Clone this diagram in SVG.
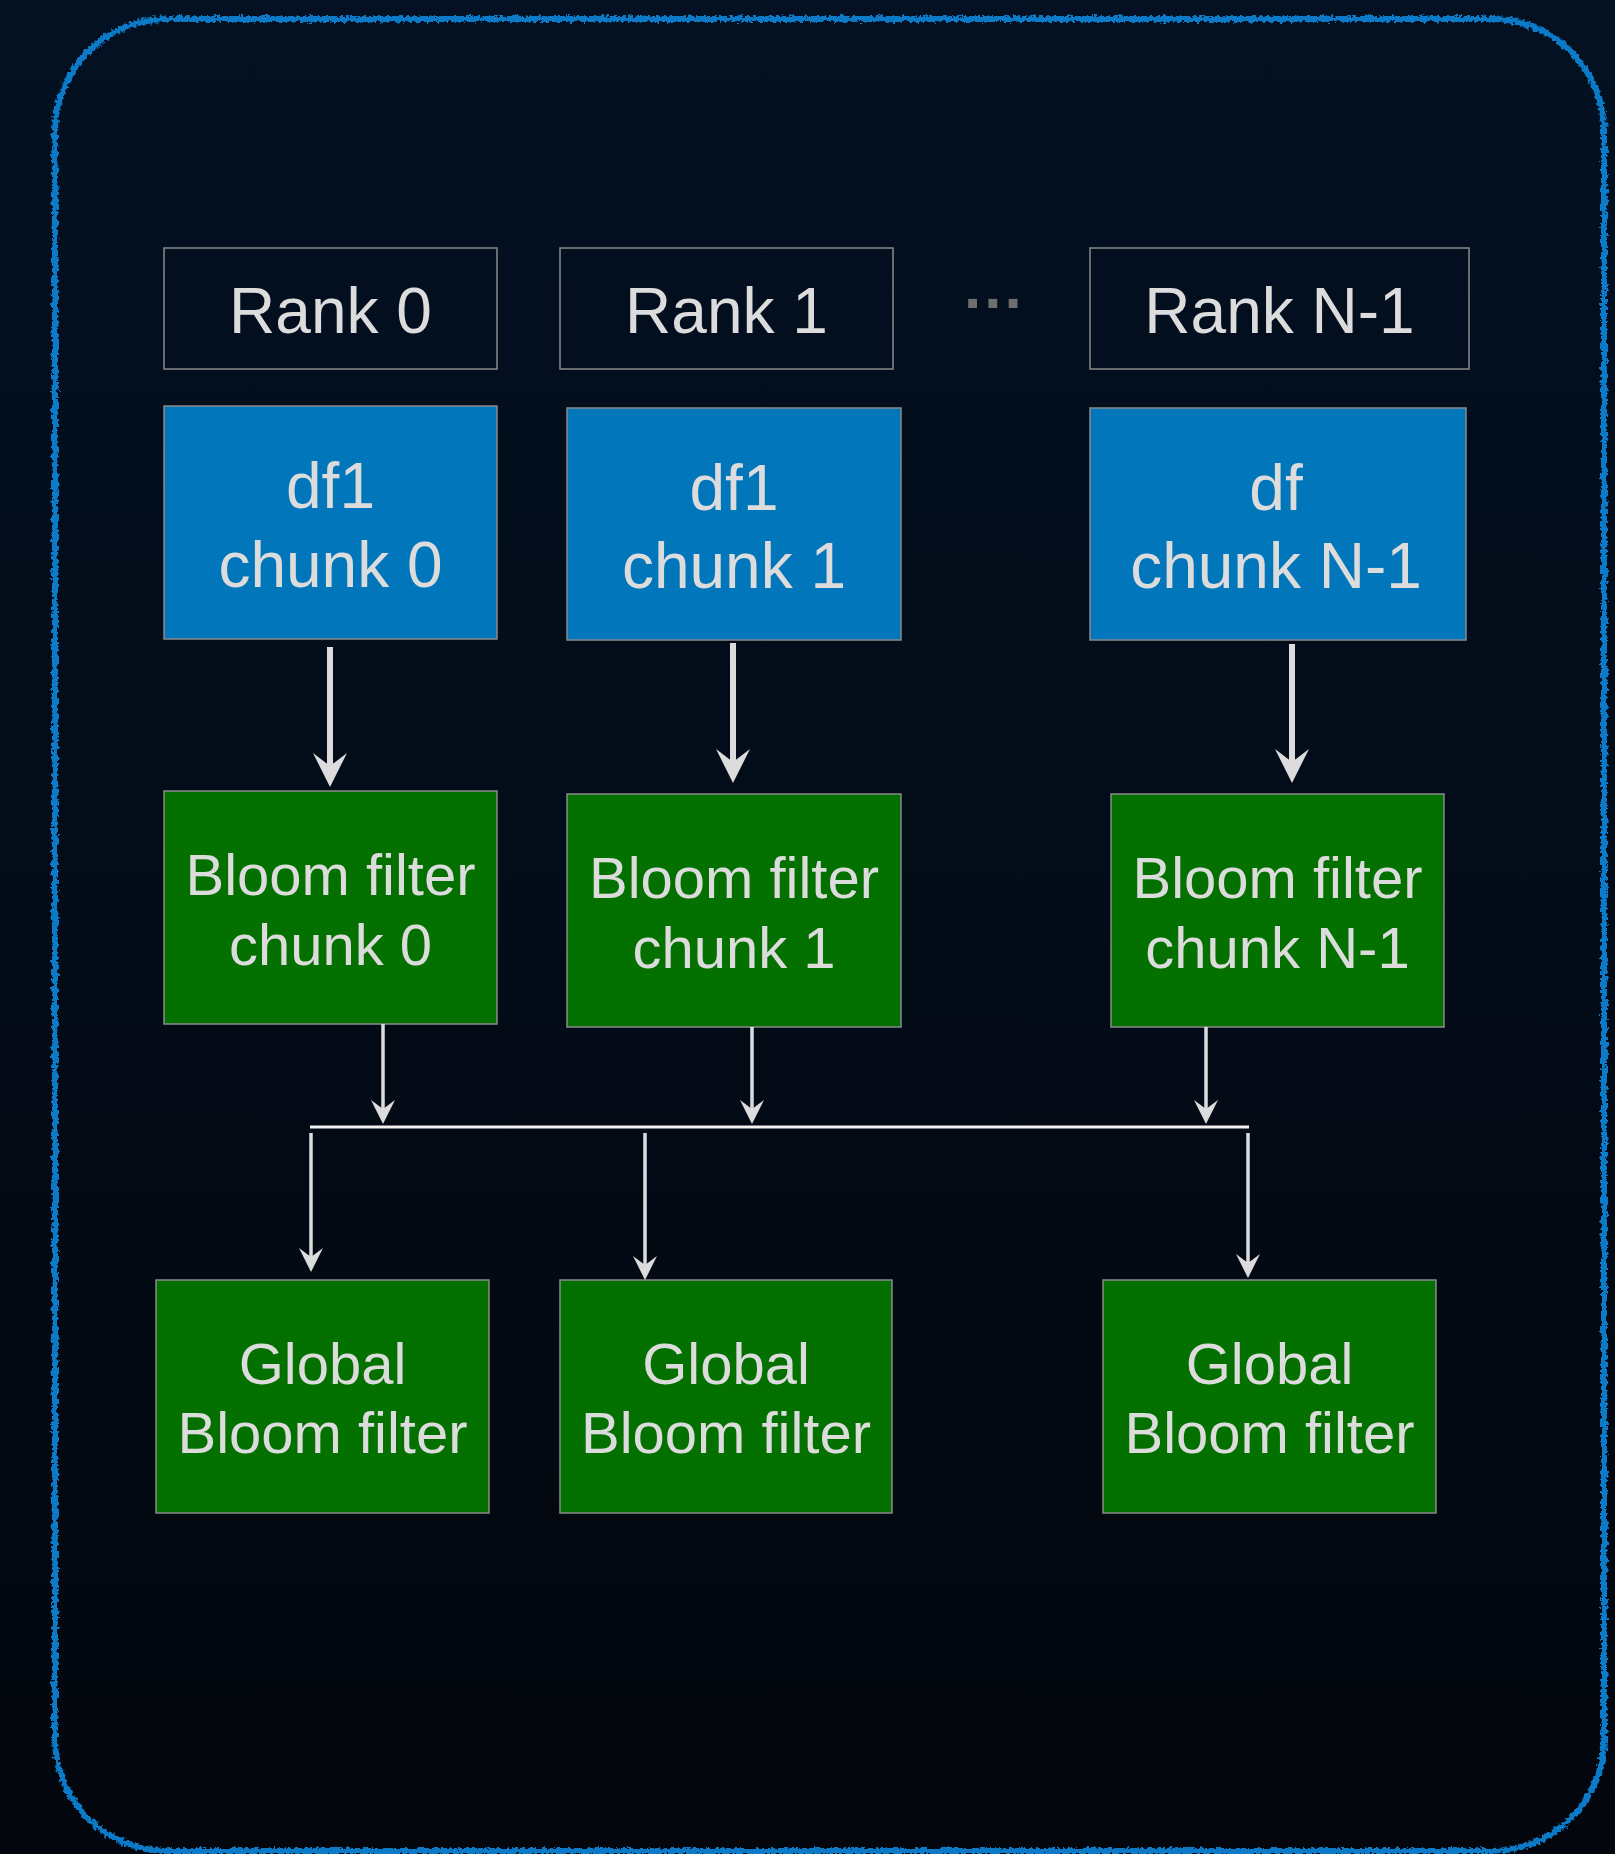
<svg xmlns="http://www.w3.org/2000/svg" width="1615" height="1854" viewBox="0 0 1615 1854">
  <defs>
    <linearGradient id="bg" x1="0" y1="0" x2="0" y2="1">
      <stop offset="0" stop-color="#031122"/>
      <stop offset="1" stop-color="#03060d"/>
    </linearGradient>
    <!-- slight hand-drawn wobble for the outer frame -->
    <filter id="rough" x="-2%" y="-2%" width="104%" height="104%">
      <feTurbulence type="fractalNoise" baseFrequency="0.3" numOctaves="2" seed="3" result="noise"/>
      <feDisplacementMap in="SourceGraphic" in2="noise" scale="7" xChannelSelector="R" yChannelSelector="G"/>
    </filter>
    <marker id="headL" markerUnits="userSpaceOnUse" viewBox="0 -17 34 34" refX="13" refY="0" markerWidth="34" markerHeight="34" orient="auto">
      <path d="M0,-17 L34,0 L0,17 L13,0 Z" fill="#dcdcdc"/>
    </marker>
    <marker id="headS" markerUnits="userSpaceOnUse" viewBox="0 -12 24 24" refX="9" refY="0" markerWidth="24" markerHeight="24" orient="auto">
      <path d="M0,-12 L24,0 L0,12 L9,0 Z" fill="#dcdcdc"/>
    </marker>
  </defs>
  <style>
    .lbl { font-family: "Liberation Sans", Arial, Helvetica, sans-serif; fill: #dcdcdc; text-anchor: middle; }
    .big { font-size: 64px; }
    .mid { font-size: 58px; }
    .box { stroke: #8a8a8a; stroke-width: 1.5; }
    .rank { fill: none; }
    .df { fill: #0276bb; }
    .bf { fill: #037000; }
    .thick { stroke: #dcdcdc; stroke-width: 6; fill: none; marker-end: url(#headL); }
    .thin { stroke: #dcdcdc; stroke-width: 3.5; fill: none; marker-end: url(#headS); }
  </style>

  <rect x="0" y="0" width="1615" height="1854" fill="url(#bg)"/>
  <rect id="frame" x="55" y="19" width="1549" height="1832" rx="112" ry="112" fill="none" stroke="#0a7ac8" stroke-width="6" filter="url(#rough)"/>

  <!-- rank headers -->
  <g id="rank0">
    <rect class="box rank" x="164" y="248" width="333" height="121"/>
    <text class="lbl big" x="330.5" y="333">Rank 0</text>
  </g>
  <g id="rank1">
    <rect class="box rank" x="560" y="248" width="333" height="121"/>
    <text class="lbl big" x="726.5" y="333">Rank 1</text>
  </g>
  <g id="rankN">
    <rect class="box rank" x="1090" y="248" width="379" height="121"/>
    <text class="lbl big" x="1279.5" y="333">Rank N-1</text>
  </g>
  <g id="ellipsis">
    <text x="964" y="308" font-family="Liberation Sans, Arial, sans-serif" font-size="62" font-weight="bold" letter-spacing="3" fill="#6e6e6e">...</text>
  </g>

  <!-- dataframe chunks -->
  <g id="df0">
    <rect class="box df" x="164" y="406" width="333" height="233"/>
    <text class="lbl big" x="330.5" y="508">df1</text>
    <text class="lbl big" x="330.5" y="587">chunk 0</text>
  </g>
  <g id="df1">
    <rect class="box df" x="567" y="408" width="334" height="232"/>
    <text class="lbl big" x="734" y="510">df1</text>
    <text class="lbl big" x="734" y="588">chunk 1</text>
  </g>
  <g id="dfN">
    <rect class="box df" x="1090" y="408" width="376" height="232"/>
    <text class="lbl big" x="1276" y="510">df</text>
    <text class="lbl big" x="1276" y="588">chunk N-1</text>
  </g>

  <!-- local bloom filters -->
  <g id="bf0">
    <rect class="box bf" x="164" y="791" width="333" height="233"/>
    <text class="lbl mid" x="330.5" y="895">Bloom filter</text>
    <text class="lbl mid" x="330.5" y="965">chunk 0</text>
  </g>
  <g id="bf1">
    <rect class="box bf" x="567" y="794" width="334" height="233"/>
    <text class="lbl mid" x="734" y="898">Bloom filter</text>
    <text class="lbl mid" x="734" y="968">chunk 1</text>
  </g>
  <g id="bfN">
    <rect class="box bf" x="1111" y="794" width="333" height="233"/>
    <text class="lbl mid" x="1277.5" y="898">Bloom filter</text>
    <text class="lbl mid" x="1277.5" y="968">chunk N-1</text>
  </g>

  <!-- global bloom filters -->
  <g id="gbf0">
    <rect class="box bf" x="156" y="1280" width="333" height="233"/>
    <text class="lbl mid" x="322.5" y="1384">Global</text>
    <text class="lbl mid" x="322.5" y="1453">Bloom filter</text>
  </g>
  <g id="gbf1">
    <rect class="box bf" x="560" y="1280" width="332" height="233"/>
    <text class="lbl mid" x="726" y="1384">Global</text>
    <text class="lbl mid" x="726" y="1453">Bloom filter</text>
  </g>
  <g id="gbfN">
    <rect class="box bf" x="1103" y="1280" width="333" height="233"/>
    <text class="lbl mid" x="1269.5" y="1384">Global</text>
    <text class="lbl mid" x="1269.5" y="1453">Bloom filter</text>
  </g>

  <!-- connectors -->
  <g id="connectors">
    <line class="thick" x1="330" y1="647" x2="330" y2="766"/>
    <line class="thick" x1="733" y1="643" x2="733" y2="762"/>
    <line class="thick" x1="1292" y1="644" x2="1292" y2="762"/>

    <line class="thin" x1="383" y1="1024" x2="383" y2="1109"/>
    <line class="thin" x1="752" y1="1027" x2="752" y2="1109"/>
    <line class="thin" x1="1206" y1="1027" x2="1206" y2="1109"/>

    <line x1="310" y1="1127" x2="1249" y2="1127" stroke="#f2f2f2" stroke-width="3"/>

    <line class="thin" x1="311" y1="1133" x2="311" y2="1257"/>
    <line class="thin" x1="645" y1="1133" x2="645" y2="1265"/>
    <line class="thin" x1="1248" y1="1133" x2="1248" y2="1263"/>
  </g>
</svg>
